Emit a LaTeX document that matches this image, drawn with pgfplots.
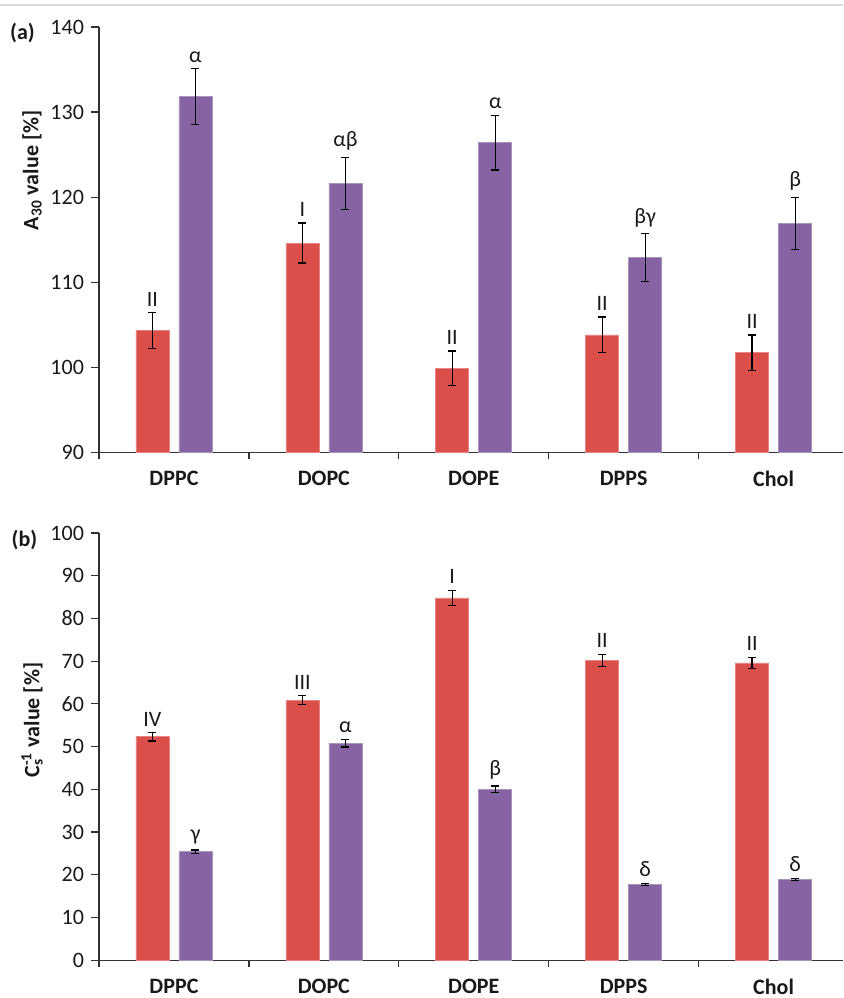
\documentclass[border=0pt]{standalone}
\usepackage{fontspec}
\setmainfont{Carlito}
\usepackage{pgfplots}
\pgfplotsset{compat=1.18}
\usepackage{pgfplotstable}

\definecolor{barred}{RGB}{218,79,74}
\definecolor{barpurple}{RGB}{134,99,163}
\definecolor{axisgray}{RGB}{50,50,50}
\definecolor{txt}{RGB}{25,25,25}

% top panel (A30)
\pgfplotstableread{
x y e lab
0 104.3 2.1 II
1 114.6 2.35 I
2 99.9 2.0 II
3 103.8 2.1 II
4 101.7 2.1 II
}\redA
\pgfplotstableread{
x y e lab
0 131.8 3.3 α
1 121.6 3.1 αβ
2 126.4 3.2 α
3 112.9 2.8 βγ
4 116.9 3.1 β
}\purA
% bottom panel (Cs^-1)
\pgfplotstableread{
x y e lab
0 52.3 1.0 IV
1 60.9 1.0 III
2 84.8 1.8 I
3 70.2 1.4 II
4 69.6 1.3 II
}\redB
\pgfplotstableread{
x y e lab
0 25.4 0.4 γ
1 50.8 0.9 α
2 40.0 0.8 β
3 17.7 0.3 δ
4 18.9 0.3 δ
}\purB

\newcommand{\fs}{\fontsize{11}{13}\selectfont}

\pgfplotsset{
  panel/.style={
    scale only axis, enlargelimits=false,
    xmin=-0.5, xmax=4.463,
    axis lines*=left,
    axis line style={axisgray, line width=0.6pt},
    tick align=outside,
    tick style={axisgray, line width=0.6pt},
    major tick length=4pt, minor tick length=3.5pt,
    xtick={0,1,2,3,4},
    xticklabels={DPPC,DOPC,DOPE,DPPS,Chol},
    major x tick style={draw=none},
    minor xtick={-0.5,0.5,1.5,2.5,3.5},
    xticklabel style={font=\bfseries\fs, text=txt, yshift=-2pt},
    yticklabel style={font=\fs, text=txt, /pgf/number format/assume math mode=true},
    ylabel style={anchor=center, font=\bfseries\fs, text=txt},
  },
  errs/.style={error bars/.cd, y dir=both, y explicit,
    error mark=|,
    error bar style={black, line width=0.6pt},
    error mark options={black, line width=0.6pt, mark size=2pt}},
  barR/.style={ybar, bar width=16.5pt, bar shift=0pt, fill=barred, draw=barred!70!white, line width=0.3pt, errs},
  barP/.style={ybar, bar width=16.5pt, bar shift=0pt, fill=barpurple, draw=barpurple!70!white, line width=0.3pt, errs},
  lab/.style={draw=none, mark=none, nodes near coords, point meta=explicit symbolic,
    nodes near coords style={anchor=south, inner sep=3pt, font=\fs, text=txt}},
}

\begin{document}
\begin{tikzpicture}
\path[use as bounding box] (0pt,0pt) rectangle (421.5pt,499pt);
\draw[black!15, line width=0.6pt] (0pt,496.5pt) -- (421.5pt,496.5pt);

\begin{axis}[panel,
  at={(49.5pt,272.85pt)}, anchor=south west,
  width=372pt, height=212.65pt,
  ymin=90, ymax=140, ytick={90,100,...,140},
  ylabel={A\textsubscript{30} value [\%]},
  ylabel style={at={(axis description cs:-0.09,0.663)}},
]
\addplot[barR] table[x expr=\thisrow{x}-0.1436, y=y, y error=e] {\redA};
\addplot[barP] table[x expr=\thisrow{x}+0.1436, y=y, y error=e] {\purA};
\addplot[lab] table[x expr=\thisrow{x}-0.1436, y expr=\thisrow{y}+\thisrow{e}, meta=lab] {\redA};
\addplot[lab] table[x expr=\thisrow{x}+0.1436, y expr=\thisrow{y}+\thisrow{e}, meta=lab] {\purA};
\end{axis}

\begin{axis}[panel,
  at={(49.5pt,18.9pt)}, anchor=south west,
  width=372pt, height=213.6pt,
  ymin=0, ymax=100, ytick={0,10,...,100},
  ylabel={C\rlap{\textsubscript{s}}\textsuperscript{-1} value [\%]},
  ylabel style={at={(axis description cs:-0.09,0.562)}},
]
\addplot[barR] table[x expr=\thisrow{x}-0.1436, y=y, y error=e] {\redB};
\addplot[barP] table[x expr=\thisrow{x}+0.1436, y=y, y error=e] {\purB};
\addplot[lab] table[x expr=\thisrow{x}-0.1436, y expr=\thisrow{y}+\thisrow{e}, meta=lab] {\redB};
\addplot[lab] table[x expr=\thisrow{x}+0.1436, y expr=\thisrow{y}+\thisrow{e}, meta=lab] {\purB};
\end{axis}

\node[font=\bfseries\fs, text=txt] at (11.25pt,482.5pt) {(a)};
\node[font=\bfseries\fs, text=txt] at (12.25pt,229pt) {(b)};
\end{tikzpicture}
\end{document}
